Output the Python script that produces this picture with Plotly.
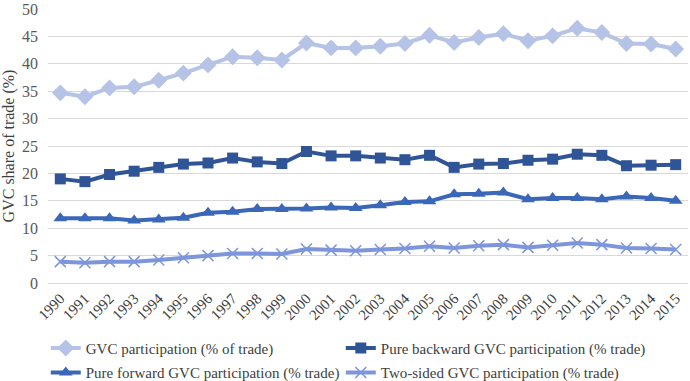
import plotly.graph_objects as go

years = [str(y) for y in range(1990, 2016)]
gvc = [34.7, 34.0, 35.6, 35.8, 37.0, 38.3, 39.8, 41.3, 41.1, 40.7, 43.8, 42.9, 42.9, 43.2, 43.7, 45.2,
       43.9, 44.8, 45.5, 44.2, 45.1, 46.5, 45.7, 43.7, 43.6, 42.7]
backward = [19.0, 18.5, 19.8, 20.4, 21.1, 21.7, 21.9, 22.8, 22.1, 21.8, 24.0, 23.2, 23.2, 22.8, 22.5, 23.3,
            21.1, 21.7, 21.8, 22.4, 22.6, 23.5, 23.3, 21.4, 21.5, 21.6]
forward = [11.8, 11.8, 11.8, 11.4, 11.6, 11.9, 12.8, 13.0, 13.5, 13.5, 13.6, 13.8, 13.7, 14.2, 14.8, 14.9,
           16.2, 16.3, 16.5, 15.3, 15.5, 15.5, 15.3, 15.8, 15.5, 15.0]
two_sided = [3.9, 3.7, 3.9, 3.9, 4.2, 4.6, 5.0, 5.4, 5.4, 5.3, 6.2, 6.0, 5.9, 6.1, 6.3, 6.7,
             6.4, 6.8, 7.0, 6.5, 6.9, 7.3, 7.0, 6.4, 6.3, 6.1]

names = ["GVC participation (% of trade)", "Pure backward GVC participation (% trade)",
         "Pure forward GVC participation (% trade)", "Two-sided GVC participation (% trade)"]

font = "Liberation Serif"
fig = go.Figure()
fig.add_trace(go.Scatter(x=years, y=gvc, name=names[0], mode="lines+markers", legend="legend",
                         legendgroup="a",
                         line=dict(color="#B4C3E6", width=4),
                         marker=dict(symbol="diamond", size=13, color="#B4C3E6")))
fig.add_trace(go.Scatter(x=years, y=backward, name=names[1], mode="lines+markers", legend="legend2",
                         legendgroup="b",
                         line=dict(color="#2F5597", width=4),
                         marker=dict(symbol="square", size=11, color="#2F5597")))
fig.add_trace(go.Scatter(x=years, y=forward, name=names[2], mode="lines+markers", legend="legend",
                         legendgroup="c",
                         line=dict(color="#3A67B8", width=4),
                         marker=dict(symbol="triangle-up", size=12, color="#3A67B8")))
fig.add_trace(go.Scatter(x=years, y=two_sided, name=names[3], mode="lines+markers", legend="legend2",
                         legendgroup="d",
                         line=dict(color="#7D95DB", width=4),
                         marker=dict(symbol="x-thin", size=11, color="#7D95DB",
                                     line=dict(color="#7D95DB", width=1.5))))

legend_common = dict(orientation="v", xanchor="left", y=-0.178, yanchor="top",
                     font=dict(family=font, size=15, color="#404040"),
                     tracegroupgap=2, itemwidth=30, bgcolor="rgba(0,0,0,0)")

fig.update_layout(
    width=690, height=381,
    margin=dict(l=48, r=2, t=9, b=98, autoexpand=False),
    paper_bgcolor="white", plot_bgcolor="white",
    font=dict(family=font, size=15, color="#404040"),
    xaxis=dict(type="category", range=[-0.5, 25.5], tickangle=-45, showgrid=False, automargin=False,
               showline=True, linecolor="#D9D9D9", ticks="", tickfont=dict(family=font, size=15, color="#404040")),
    yaxis=dict(range=[0, 50], dtick=5, showgrid=True, gridcolor="#D9D9D9", zeroline=False, automargin=False,
               ticks="", ticklabelstandoff=9, tickfont=dict(family=font, size=16, color="#595959"),
               title=dict(text="GVC share of trade (%)", font=dict(family=font, size=16, color="#404040"), standoff=6)),
    legend=dict(x=-0.0035, **legend_common),
    legend2=dict(x=0.4575, **legend_common),
    showlegend=True,
)

fig.write_html("out.html", config={"displayModeBar": False},
               post_script="document.body.style.margin='0px';")
